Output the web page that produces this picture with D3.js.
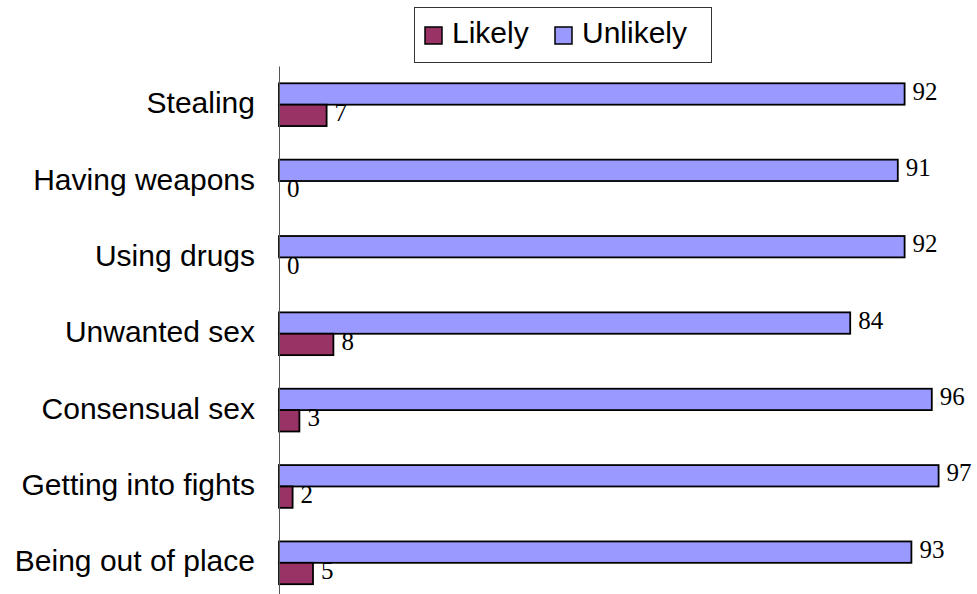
<!DOCTYPE html>
<html>
<head>
<meta charset="utf-8">
<script src="https://cdn.jsdelivr.net/npm/d3@7"></script>
<style>
  html, body { margin: 0; padding: 0; background: #fff; }
  svg { display: block; }
</style>
</head>
<body>
<script>
const categories = ["Stealing", "Having weapons", "Using drugs", "Unwanted sex", "Consensual sex", "Getting into fights", "Being out of place"];
const likely = [7, 0, 0, 8, 3, 2, 5];
const unlikely = [92, 91, 92, 84, 96, 97, 93];
const seriesNames = ["Likely", "Unlikely"];
const seriesColors = ["#993366", "#9999FF"];

const W = 977, H = 594;
const svg = d3.select("body").append("svg").attr("width", W).attr("height", H);
svg.append("rect").attr("width", W).attr("height", H).attr("fill", "#fff");

const x = d3.scaleLinear().domain([0, 100]).range([279, 959]);
const y = d3.scaleBand().domain(categories).range([66.5, 601]).paddingInner(0.44).paddingOuter(0.22);
const ySub = d3.scaleBand().domain(["Unlikely", "Likely"]).range([0, y.bandwidth()]);

const rows = categories.map((c, i) => ({ cat: c, Likely: likely[i], Unlikely: unlikely[i] }));

// bars
const g = svg.append("g");
const groups = g.selectAll("g.cat").data(rows).enter().append("g")
  .attr("class", "cat")
  .attr("transform", d => `translate(0,${y(d.cat)})`);

["Unlikely", "Likely"].forEach(s => {
  const col = seriesColors[seriesNames.indexOf(s)];
  groups.append("rect")
    .attr("x", x(0))
    .attr("y", ySub(s))
    .attr("width", d => x(d[s]) - x(0))
    .attr("height", ySub.bandwidth())
    .attr("fill", col)
    .attr("stroke", "#000")
    .attr("stroke-width", 1.8);
  groups.append("text")
    .attr("x", d => x(d[s]) + 8)
    .attr("y", ySub(s) + ySub.bandwidth() / 2 + 5.7)
    .attr("font-family", "'Liberation Serif', 'Times New Roman', serif")
    .attr("font-size", 25)
    .attr("fill", "#000")
    .text(d => d[s]);
});

// vertical category axis
const axis = d3.axisLeft(y).tickSize(0).tickPadding(24);
const ax = svg.append("g").attr("transform", `translate(${x(0)},0)`).call(axis);
ax.select(".domain").attr("stroke", "#555").attr("stroke-width", 1)
  .attr("d", `M0.5,66.5V601`);
ax.selectAll(".tick text")
  .attr("font-family", "'Liberation Sans', Arial, sans-serif")
  .attr("font-size", 30)
  .attr("fill", "#000")
  .attr("dy", null)
  .attr("dominant-baseline", "auto")
  .attr("y", 8.5);

// legend
const leg = svg.append("g");
leg.append("rect").attr("x", 414.5).attr("y", 7.5).attr("width", 297).attr("height", 55)
  .attr("fill", "#fff").attr("stroke", "#333").attr("stroke-width", 1);
const legX = [425, 555];
seriesNames.forEach((s, i) => {
  leg.append("rect").attr("x", legX[i]).attr("y", 27).attr("width", 17).attr("height", 17)
    .attr("fill", seriesColors[i]).attr("stroke", "#000").attr("stroke-width", 1.5);
  leg.append("text").attr("x", legX[i] + 27).attr("y", 43)
    .attr("font-family", "'Liberation Sans', Arial, sans-serif")
    .attr("font-size", 30).attr("fill", "#000").text(s);
});
</script>
</body>
</html>
